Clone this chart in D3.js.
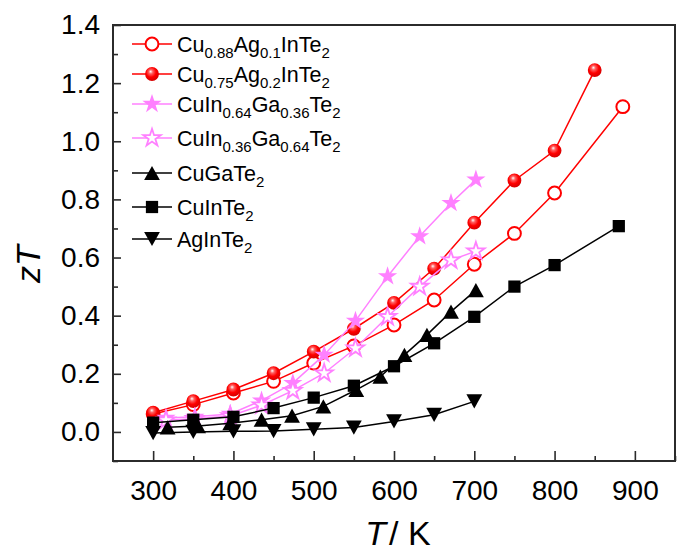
<!DOCTYPE html>
<html>
<head>
    <title></title>
    <style>
        body {
            margin: 0;
            background: #fff;
        }
        text {
            font-family: "Liberation Sans", Arial, sans-serif;
            fill: #000;
        }
        .frame {
            fill: none;
            stroke: #2b2b2b;
            stroke-width: 2px;
        }
        .axis path.domain {
            display: none;
        }
        .axis line {
            stroke: #2b2b2b;
            stroke-width: 1.6px;
        }
        .axis text {
            font-size: 28px;
        }
        .series path.line {
            fill: none;
            stroke-width: 1.5px;
        }
    </style>
</head>
<body>
<script src="https://cdn.jsdelivr.net/npm/d3@7"></script>
<script>
    var width = 677;
    var height = 555;

    // data
    var xTicks = [300, 400, 500, 600, 700, 800, 900];
    var xMinor = [350, 450, 550, 650, 750, 850, 950];
    var yTicks = [0.0, 0.2, 0.4, 0.6, 0.8, 1.0, 1.2, 1.4];
    var yMinor = [-0.1, 0.1, 0.3, 0.5, 0.7, 0.9, 1.1, 1.3];

    var names = [
        "Cu_{0.88}Ag_{0.1}InTe_{2}",
        "Cu_{0.75}Ag_{0.2}InTe_{2}",
        "CuIn_{0.64}Ga_{0.36}Te_{2}",
        "CuIn_{0.36}Ga_{0.64}Te_{2}",
        "CuGaTe_{2}",
        "CuInTe_{2}",
        "AgInTe_{2}"
    ];

    var tAg01 = [300, 350, 400, 450, 500, 550, 600, 650, 700, 750, 800, 885];
    var zAg01 = [0.062, 0.094, 0.134, 0.174, 0.237, 0.296, 0.368, 0.454, 0.577, 0.683, 0.822, 1.119];

    var tAg02 = [300, 350, 400, 450, 500, 550, 600, 650, 700, 750, 800, 850];
    var zAg02 = [0.066, 0.106, 0.146, 0.202, 0.276, 0.355, 0.444, 0.562, 0.72, 0.865, 0.968, 1.245];

    var tGa036 = [316, 352, 396, 435, 474, 513, 552, 592, 632, 671, 702];
    var zGa036 = [0.048, 0.052, 0.062, 0.108, 0.168, 0.265, 0.382, 0.535, 0.673, 0.787, 0.868];

    var tGa064 = [316, 352, 396, 435, 474, 513, 552, 592, 632, 671, 702];
    var zGa064 = [0.04, 0.045, 0.055, 0.092, 0.142, 0.202, 0.288, 0.396, 0.5, 0.591, 0.622];

    var tCuGa = [318, 356, 396, 435, 473, 512, 553, 583, 613, 641, 671, 702];
    var zCuGa = [0.016, 0.02, 0.03, 0.042, 0.056, 0.088, 0.145, 0.19, 0.265, 0.334, 0.414, 0.488];

    var tCuIn = [300, 350, 400, 450, 500, 550, 600, 650, 700, 750, 800, 880];
    var zCuIn = [0.032, 0.042, 0.052, 0.082, 0.118, 0.159, 0.226, 0.305, 0.396, 0.5, 0.574, 0.708];

    var tAgIn = [300, 350, 400, 450, 500, 550, 600, 650, 700];
    var zAgIn = [-0.004, 0, 0.002, 0.003, 0.009, 0.015, 0.036, 0.059, 0.105];

    var red = "#ff0000";
    var pink = "#ff80ff";
    var black = "#000000";

    // bbox-centred triangles, like the original plotting program
    var triUp = {draw: function(ctx, size) {
        var w = Math.sqrt(size), h = w * 0.9;
        ctx.moveTo(0, -h / 2); ctx.lineTo(w / 2, h / 2); ctx.lineTo(-w / 2, h / 2); ctx.closePath();
    }};
    var triDown = {draw: function(ctx, size) {
        var w = Math.sqrt(size), h = w * 0.9;
        ctx.moveTo(0, h / 2); ctx.lineTo(w / 2, -h / 2); ctx.lineTo(-w / 2, -h / 2); ctx.closePath();
    }};

    var series = [
        {t: tAg01, z: zAg01, color: red, sym: d3.symbolCircle, size: 130, fill: "#fff", sw: 2},
        {t: tAg02, z: zAg02, color: red, sym: d3.symbolCircle, size: 150, fill: "url(#ball)", sw: 0},
        {t: tGa036, z: zGa036, color: pink, sym: d3.symbolStar, size: 115, fill: pink, sw: 0},
        {t: tGa064, z: zGa064, color: pink, sym: d3.symbolStar, size: 95, fill: "#fff", sw: 1.8},
        {t: tCuGa, z: zCuGa, color: black, sym: triUp, size: 250, fill: black, sw: 0},
        {t: tCuIn, z: zCuIn, color: black, sym: d3.symbolSquare, size: 150, fill: black, sw: 0},
        {t: tAgIn, z: zAgIn, color: black, sym: triDown, size: 250, fill: black, sw: 0}
    ];

    var plotL = 113, plotR = 675, plotT = 25, plotB = 461;

    var x = d3.scaleLinear().domain([250, 950]).range([plotL, plotR]);
    var y = d3.scaleLinear().domain([-0.1, 1.4]).range([plotB, plotT]);

    var svg = d3.select("body").append("svg")
            .attr("width", width)
            .attr("height", height);

    var grad = svg.append("defs").append("radialGradient")
            .attr("id", "ball")
            .attr("cx", "45%").attr("cy", "40%").attr("r", "60%")
            .attr("fx", "40%").attr("fy", "32%");
    grad.append("stop").attr("offset", "0%").attr("stop-color", "#ffffff");
    grad.append("stop").attr("offset", "25%").attr("stop-color", "#ff6060");
    grad.append("stop").attr("offset", "60%").attr("stop-color", "#ff0000");
    grad.append("stop").attr("offset", "100%").attr("stop-color", "#d40000");

    // axes, ticks pointing inward
    svg.append("g").attr("class", "axis")
            .attr("transform", "translate(0," + plotB + ")")
            .call(d3.axisBottom(x).tickValues(xTicks).tickSize(-10).tickPadding(19).tickFormat(d3.format("d")));
    svg.append("g").attr("class", "axis")
            .attr("transform", "translate(0," + plotB + ")")
            .call(d3.axisBottom(x).tickValues(xMinor).tickSize(-5).tickFormat(""));
    svg.append("g").attr("class", "axis")
            .attr("transform", "translate(" + plotL + ",0)")
            .call(d3.axisLeft(y).tickValues(yTicks).tickSize(-8).tickPadding(13).tickFormat(d3.format(".1f")));
    svg.append("g").attr("class", "axis")
            .attr("transform", "translate(" + plotL + ",0)")
            .call(d3.axisLeft(y).tickValues(yMinor).tickSize(-5).tickFormat(""));

    svg.append("rect").attr("class", "frame")
            .attr("x", plotL).attr("y", plotT)
            .attr("width", plotR - plotL).attr("height", plotB - plotT);

    // axis titles
    svg.append("text")
            .attr("transform", "translate(40,264)rotate(-90)")
            .attr("text-anchor", "middle")
            .style("font-size", "34px")
            .style("font-style", "italic")
            .text("zT");

    var xt = svg.append("text")
            .attr("x", 398).attr("y", 545)
            .attr("text-anchor", "middle")
            .style("font-size", "34px");
    xt.append("tspan").style("font-style", "italic").text("T");
    xt.append("tspan").attr("dx", 3).text("/ K");

    var line = d3.line()
            .x(function(d) {return x(d[0]);})
            .y(function(d) {return y(d[1]);});

    series.forEach(function(s) {
        var pts = s.t.map(function(t, i) {return [t, s.z[i]];});
        var g = svg.append("g").attr("class", "series");
        g.append("path").attr("class", "line")
                .datum(pts)
                .attr("stroke", s.color)
                .attr("d", line);
        g.selectAll("path.pt").data(pts).enter().append("path")
                .attr("class", "pt")
                .attr("transform", function(d) {return "translate(" + x(d[0]) + "," + y(d[1]) + ")";})
                .attr("d", d3.symbol(s.sym, s.size))
                .attr("fill", s.fill)
                .attr("stroke", s.sw ? s.color : "none")
                .attr("stroke-width", s.sw);
    });

    // legend
    var legendY = [44, 74, 104, 138, 173, 207, 239];
    var lg = svg.append("g");
    series.forEach(function(s, i) {
        var ly = legendY[i];
        lg.append("line")
                .attr("x1", 132).attr("x2", 172)
                .attr("y1", ly).attr("y2", ly)
                .attr("stroke", s.color).attr("stroke-width", 1.6);
        lg.append("path")
                .attr("transform", "translate(152," + ly + ")")
                .attr("d", d3.symbol(s.sym, s.size))
                .attr("fill", s.fill)
                .attr("stroke", s.sw ? s.color : "none")
                .attr("stroke-width", s.sw);
        var txt = lg.append("text")
                .attr("x", 177).attr("y", ly + 8)
                .style("font-size", "21.5px");
        var parts = names[i].split(/(_\{[^}]*\})/).filter(function(p) {return p.length;});
        var shifted = false;
        parts.forEach(function(p) {
            if(p.charAt(0) == "_") {
                txt.append("tspan").attr("dy", shifted ? 0 : 6)
                        .style("font-size", "15px")
                        .text(p.slice(2, -1));
                shifted = true;
            } else {
                txt.append("tspan").attr("dy", shifted ? -6 : 0).text(p);
                shifted = false;
            }
        });
    });

</script>
</body>
</html>
